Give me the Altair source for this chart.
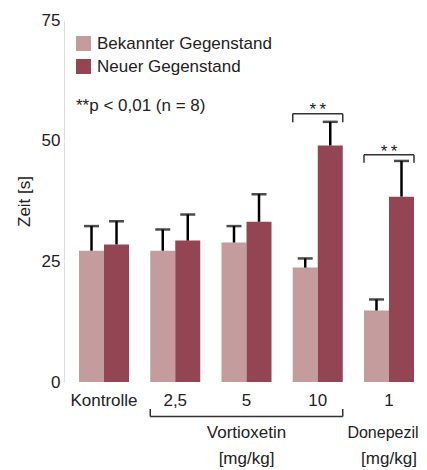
import altair as alt
import pandas as pd

FONT = "Liberation Sans"
FS = 17
TXT = "#222222"

groups = ["Kontrolle", "2,5", "5", "10", "1"]
series = ["Bekannter Gegenstand", "Neuer Gegenstand"]
known_mean = [27.2, 27.2, 28.9, 23.7, 14.8]
known_sd = [5.1, 4.4, 3.4, 1.9, 2.3]
novel_mean = [28.5, 29.3, 33.2, 49.0, 38.4]
novel_sd = [4.8, 5.4, 5.7, 4.9, 7.4]
colors = ["#c49c9e", "#944553"]

sig_groups = ["10", "1"]
sig_top = [55.6, 47.1]
sig_leg = [53.8, 45.4]
sig_text_y = [55.3, 46.6]
sig_label = "*\u2009*"

note_text = "**p < 0,01 (n = 8)"

vort_name = ["Vortioxetin"]
vort_at = ["5"]
done_name = ["Donepezil"]
done_at = ["1"]
unit_label = ["[mg/kg]", "[mg/kg]"]
unit_at = ["5", "1"]
name_y = -11.5
unit_y = -17.0
brace_from = ["2,5"]
brace_to = ["10"]
brace_line_y = [-7.15]
brace_leg_y = [-5.6]

rows = []
for g, m, s in zip(groups, known_mean, known_sd):
    rows.append({"group": g, "series": series[0], "mean": m, "upper": m + s})
for g, m, s in zip(groups, novel_mean, novel_sd):
    rows.append({"group": g, "series": series[1], "mean": m, "upper": m + s})
df = pd.DataFrame(rows)

sig_df = pd.DataFrame({"group": sig_groups, "top": sig_top, "leg": sig_leg, "ty": sig_text_y})
vort_df = pd.DataFrame({"group": vort_at, "name": vort_name, "y": [name_y]})
done_df = pd.DataFrame({"group": done_at, "name": done_name, "y": [name_y]})
unit_df = pd.DataFrame({"group": unit_at, "unit": unit_label, "y": [unit_y] * len(unit_at)})
brace_df = pd.DataFrame({"group": brace_from, "group2": brace_to, "line": brace_line_y, "leg": brace_leg_y})
note_df = pd.DataFrame({"note": [note_text]})

xscale = alt.Scale(domain=groups, paddingInner=0.298, paddingOuter=0.1404, align=0.75)
yscale = alt.Scale(domain=[0, 75], nice=False, zero=False)
offscale = alt.Scale(domain=series, paddingInner=0, paddingOuter=0)

xaxis = alt.Axis(
    title=None, labelAngle=0, labelFont=FONT, labelFontSize=FS, labelColor=TXT,
    labelPadding=10, ticks=False, domain=False, grid=False)
yaxis = alt.Axis(
    values=[0, 25, 50, 75], title="Zeit [s]", labelFont=FONT, labelFontSize=FS,
    labelColor=TXT, titleFont=FONT, titleFontSize=FS, titleFontWeight="normal",
    titleColor=TXT, labelPadding=4, titlePadding=8, ticks=False, domain=False,
    gridColor="white", gridWidth=2)


def X(field, **kw):
    return alt.X(field, scale=xscale, axis=xaxis, **kw)


def Y(field):
    return alt.Y(field, scale=yscale, axis=yaxis)


xoff = alt.XOffset("series:N", scale=offscale)

bars = alt.Chart(df).mark_bar().encode(
    x=X("group:N"),
    xOffset=xoff,
    y=Y("mean:Q"),
    color=alt.Color("series:N", scale=alt.Scale(domain=series, range=colors), legend=alt.Legend(
        orient="none", legendX=11, legendY=15, title=None, symbolType="square",
        symbolSize=225, symbolStrokeWidth=0, symbolOpacity=1, labelFont=FONT, labelFontSize=FS,
        labelColor=TXT, labelOffset=5, rowPadding=5, padding=0, labelLimit=400)),
)

err = alt.Chart(df).mark_rule(color="black", strokeWidth=2.5).encode(
    x=X("group:N"), xOffset=xoff, y=Y("mean:Q"), y2="upper:Q")

caps = alt.Chart(df).mark_tick(color="black", thickness=2.5, size=15).encode(
    x=X("group:N"), xOffset=xoff, y=Y("upper:Q"))

LINE = "#333333"
sig_line = alt.Chart(sig_df).mark_rule(color=LINE, strokeWidth=1.5).encode(
    x=X("group:N", bandPosition=0), x2=alt.X2("group", bandPosition=1), y=Y("top:Q"))
sig_leg_l = alt.Chart(sig_df).mark_rule(color=LINE, strokeWidth=1.5).encode(
    x=X("group:N", bandPosition=0), y=Y("leg:Q"), y2="top:Q")
sig_leg_r = alt.Chart(sig_df).mark_rule(color=LINE, strokeWidth=1.5).encode(
    x=X("group:N", bandPosition=1), y=Y("leg:Q"), y2="top:Q")
sig_txt = alt.Chart(sig_df).mark_text(text=sig_label, font=FONT, fontSize=FS, color=TXT,
                                      baseline="alphabetic", align="center").encode(
    x=X("group:N"), y=Y("ty:Q"))

brace_line = alt.Chart(brace_df).mark_rule(color=LINE, strokeWidth=1.5).encode(
    x=X("group:N", bandPosition=0), x2=alt.X2("group2", bandPosition=1), y=Y("line:Q"))
brace_l = alt.Chart(brace_df).mark_rule(color=LINE, strokeWidth=1.5).encode(
    x=X("group:N", bandPosition=0), y=Y("line:Q"), y2="leg:Q")
brace_r = alt.Chart(brace_df).mark_rule(color=LINE, strokeWidth=1.5).encode(
    x=X("group2:N", bandPosition=1), y=Y("line:Q"), y2="leg:Q")

vort_txt = alt.Chart(vort_df).mark_text(font=FONT, fontSize=FS, color=TXT,
                                        baseline="alphabetic", align="center").encode(
    x=X("group:N"), y=Y("y:Q"), text="name:N")
done_txt = alt.Chart(done_df).mark_text(font=FONT, fontSize=16, color=TXT, dx=-6,
                                        baseline="alphabetic", align="center").encode(
    x=X("group:N"), y=Y("y:Q"), text="name:N")
unit_txt = alt.Chart(unit_df).mark_text(font=FONT, fontSize=FS, color=TXT,
                                        baseline="alphabetic", align="center").encode(
    x=X("group:N"), y=Y("y:Q"), text="unit:N")

note = alt.Chart(note_df).mark_text(font=FONT, fontSize=FS, color=TXT,
                                    baseline="alphabetic", align="left").encode(
    x=alt.value(12), y=alt.value(91), text="note:N")

chart = alt.layer(
    bars, err, caps, sig_line, sig_leg_l, sig_leg_r, sig_txt,
    brace_line, brace_l, brace_r, vort_txt, done_txt, unit_txt, note
).properties(
    width=355, height=362,
    autosize=alt.AutoSizeParams(type="none"),
    padding={"left": 56, "top": 12, "right": 0, "bottom": 88},
).configure_view(fill="#ebebeb", stroke=None).configure(background="white")

chart.save("out.html", embed_options={"renderer": "svg", "actions": False})
